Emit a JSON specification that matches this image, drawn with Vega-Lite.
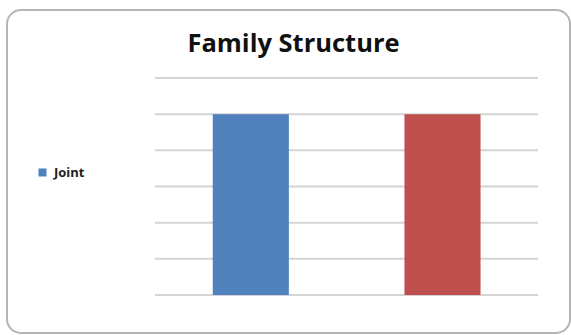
{
  "$schema": "https://vega.github.io/schema/vega-lite/v6.json",
  "width": 563,
  "height": 323,
  "autosize": {"type": "none"},
  "padding": {"left": 7, "top": 10, "right": 1, "bottom": 2},
  "background": "white",
  "config": {"view": {"stroke": "#b4b4b4", "strokeWidth": 2, "cornerRadius": 14}},
  "title": {
    "text": "Family Structure",
    "font": "Open Sans",
    "fontSize": 25.5,
    "fontWeight": "bold",
    "color": "#111111",
    "anchor": "middle",
    "frame": "group",
    "orient": "top",
    "offset": -67,
    "baseline": "alphabetic",
    "dx": 5
  },
  "datasets": {
    "bars": [
      {"structure": "Joint", "value": 100},
      {"structure": "Nuclear", "value": 100}
    ],
    "grid": [
      {"tick": 0}, {"tick": 20}, {"tick": 40}, {"tick": 60},
      {"tick": 80}, {"tick": 100}, {"tick": 120}
    ]
  },
  "layer": [
    {
      "data": {"name": "grid"},
      "mark": {"type": "rule", "color": "#d4d4d4", "strokeWidth": 2},
      "encoding": {
        "y": {"field": "tick", "type": "quantitative", "scale": {"domain": [-21, 157.6], "nice": false, "zero": false}, "axis": null},
        "x": {"datum": 0, "type": "quantitative", "scale": {"domain": [-0.3864, 1.0836], "nice": false, "zero": false}, "axis": null},
        "x2": {"datum": 1}
      }
    },
    {
      "data": {"name": "bars"},
      "mark": {"type": "bar"},
      "encoding": {
        "x": {"field": "structure", "type": "nominal", "sort": null, "scale": {"paddingInner": 0.603, "paddingOuter": 0.77, "align": 0.697, "round": false}, "axis": null},
        "y": {"field": "value", "type": "quantitative", "scale": {"domain": [-21, 157.6], "nice": false, "zero": false}, "axis": null},
        "y2": {"datum": 0},
        "color": {
          "field": "structure", "type": "nominal",
          "scale": {"domain": ["Joint", "Nuclear"], "range": ["#4f81bd", "#c0504d"]},
          "legend": {"values": ["Joint"], "orient": "none", "legendX": 29, "legendY": 156, "title": null, "symbolType": "square", "symbolSize": 64, "labelFont": "Open Sans", "labelFontSize": 13, "labelFontWeight": "bold", "labelColor": "#222222", "labelOffset": 5}
        }
      }
    }
  ],
  "resolve": {"scale": {"x": "independent"}}
}
